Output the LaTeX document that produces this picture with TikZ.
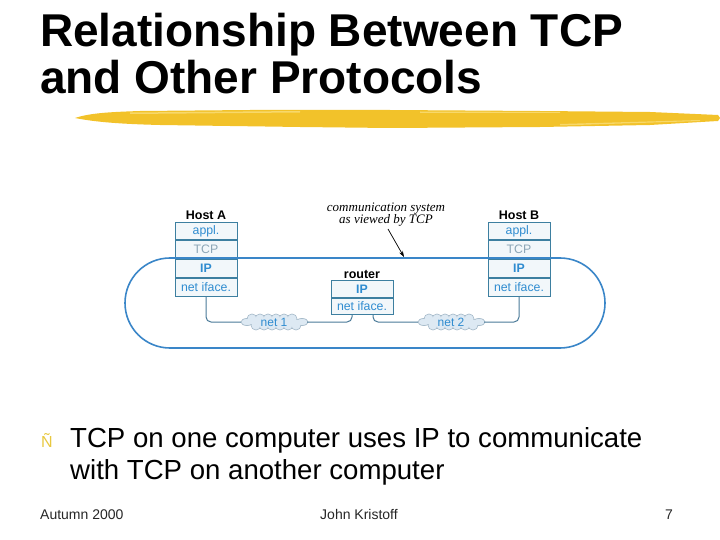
\documentclass[tikz,border=0pt]{standalone}
\usepackage{fontspec}
\setmainfont{Liberation Sans}
\newfontfamily\serifit{Liberation Serif}
\usetikzlibrary{arrows.meta}
\definecolor{loopblue}{HTML}{3A86C8}
\definecolor{boxedge}{HTML}{3D7FA0}
\definecolor{boxfill}{HTML}{F2F7FA}
\definecolor{txtblue}{HTML}{2F8CD0}
\definecolor{tcpgray}{HTML}{8CA6B6}
\definecolor{wire}{HTML}{4A7A98}
\definecolor{cloudfill}{HTML}{DDE9F3}
\definecolor{cloudedge}{HTML}{A8BCCB}
\definecolor{brush}{HTML}{F2C22A}
\definecolor{brushlight}{HTML}{F7D86A}
\definecolor{bulletyellow}{HTML}{E8C840}
\tikzset{
  layer/.style={draw=boxedge, fill=boxfill, line width=0.9pt, minimum width=62pt, inner sep=0pt, font=\fontsize{12.3}{13}\selectfont},
  boldlayer/.style={layer, font=\bfseries\fontsize{12.3}{13}\selectfont},
  hostlabel/.style={font=\bfseries\fontsize{12.5}{13}\selectfont, inner sep=0pt},
  cloudlabel/.style={minimum width=66pt, minimum height=16pt, inner sep=0pt, text=txtblue, font=\fontsize{12}{12}\selectfont},
  wireline/.style={draw=wire, line width=1pt, rounded corners=5pt},
}
\newcommand{\puffcloud}[1]{%
  \begin{scope}[shift={#1}]
    \foreach \dx in {-22,-14,...,22} {
      \draw[cloudedge, line width=0.8pt, fill=cloudfill] (\dx,-3) circle[radius=5];
      \draw[cloudedge, line width=0.8pt, fill=cloudfill] (\dx+4,3) circle[radius=5];
    }
    \draw[cloudedge, line width=0.8pt, fill=cloudfill] (-27,0) ellipse[x radius=6, y radius=3.5];
    \draw[cloudedge, line width=0.8pt, fill=cloudfill] (28,0) ellipse[x radius=6, y radius=3.5];
    \foreach \dx in {-22,-14,...,22} {
      \fill[cloudfill] (\dx,-3) circle[radius=4.4];
      \fill[cloudfill] (\dx+4,3) circle[radius=4.4];
    }
    \fill[cloudfill] (-27,0) ellipse[x radius=5.4, y radius=2.9];
    \fill[cloudfill] (28,0) ellipse[x radius=5.4, y radius=2.9];
    \fill[cloudfill] (-26,-2) rectangle (28,2);
  \end{scope}}
\begin{document}
\begin{tikzpicture}[x=1pt,y=-1pt]
\useasboundingbox (0,0) rectangle (720,540);
% title
\node[anchor=base west, inner sep=0pt, font=\bfseries\fontsize{46}{46}\selectfont] (t1) at (40,47) {Relationship Between TCP};
\node[anchor=base west, inner sep=0pt, font=\bfseries\fontsize{46}{46}\selectfont] (t2) at (40,94) {and Other Protocols};
% brush stroke
\fill[brush] (75,118) .. controls (90,113) and (110,112) .. (140,111)
  -- (250,110) -- (390,110) -- (540,111) -- (650,112) -- (718,115)
  -- (720,118) -- (718,121) -- (650,125) -- (540,127) -- (390,128)
  -- (300,127) -- (160,125) .. controls (120,124) and (95,122) .. (75,118) -- cycle;
\fill[brushlight] (130,112.5) -- (300,111) -- (300,112.5) -- (130,114) -- cycle;
\fill[brushlight] (420,111.5) -- (560,112) -- (560,113) -- (420,113) -- cycle;
\fill[brushlight] (560,124) -- (700,120) -- (700,121) -- (560,125.5) -- cycle;

% Host A
\node[hostlabel] (hostA) at (206,215) {Host A};
\node[layer, minimum height=17pt, anchor=north, text=txtblue] (aAppl) at (206,222) {appl.};
\node[layer, minimum height=18pt, anchor=north, text=tcpgray] (aTCP) at (aAppl.south) {TCP};
\node[boldlayer, minimum height=18pt, anchor=north, text=txtblue] (aIP) at (aTCP.south) {IP};
\node[layer, minimum height=18pt, anchor=north, text=txtblue] (aNet) at (aIP.south) {net iface.};

% Host B
\node[hostlabel] (hostB) at (519,215) {Host B};
\node[layer, minimum height=17pt, anchor=north, text=txtblue] (bAppl) at (519,222) {appl.};
\node[layer, minimum height=18pt, anchor=north, text=tcpgray] (bTCP) at (bAppl.south) {TCP};
\node[boldlayer, minimum height=18pt, anchor=north, text=txtblue] (bIP) at (bTCP.south) {IP};
\node[layer, minimum height=18pt, anchor=north, text=txtblue] (bNet) at (bIP.south) {net iface.};

% Router
\node[hostlabel] (router) at (362,274) {router};
\node[boldlayer, minimum height=17pt, anchor=north, text=txtblue] (rIP) at (362,280) {IP};
\node[layer, minimum height=16pt, anchor=north, text=txtblue] (rNet) at (rIP.south) {net iface.};

% clouds
\puffcloud{(274,322)}
\puffcloud{(451,322)}
\node[cloudlabel] (net1) at (274,322) {net 1};
\node[cloudlabel] (net2) at (451,322) {net 2};

% wires
\coordinate (rL) at (352,0);
\coordinate (rR) at (373,0);
\draw[wireline] (aNet.south) |- (net1.west);
\draw[wireline] (net1.east) -| (rNet.south -| rL);
\draw[wireline] (rNet.south -| rR) |- (net2.west);
\draw[wireline] (net2.east) -| (bNet.south);

% loop
\coordinate (loopTL) at (125,258);
\coordinate (loopBR) at (605,348);
\draw[loopblue, line width=1.6pt, rounded corners=45pt] (loopTL) rectangle (loopBR);

% annotation
\node[font=\serifit\itshape\fontsize{13}{12}\selectfont, align=center, inner sep=0pt] (comm) at (386,215) {communication system\\as viewed by TCP};
\coordinate (arrowtip) at (404,257);
\draw[-{Stealth[length=6pt,width=4pt]}, line width=0.7pt] (388,229) -- (arrowtip);

% bullet
\node[anchor=base west, inner sep=0pt, text=bulletyellow, font=\fontsize{16}{16}\selectfont] (bul) at (41,447) {Ñ};
\node[anchor=base west, inner sep=0pt, font=\fontsize{27.6}{32}\selectfont] (b1) at (70,447) {TCP on one computer uses IP to communicate};
\node[anchor=base west, inner sep=0pt, font=\fontsize{27.6}{32}\selectfont] (b2) at (70,479) {with TCP on another computer};

% footer
\node[anchor=base west, inner sep=0pt, font=\fontsize{14}{14}\selectfont, text=black!85] (f1) at (40,519) {Autumn 2000};
\node[anchor=base, inner sep=0pt, font=\fontsize{14}{14}\selectfont, text=black!85] (f2) at (359,519) {John Kristoff};
\node[anchor=base, inner sep=0pt, font=\fontsize{14}{14}\selectfont, text=black!85] (f3) at (669,519) {7};
\end{tikzpicture}
\end{document}
